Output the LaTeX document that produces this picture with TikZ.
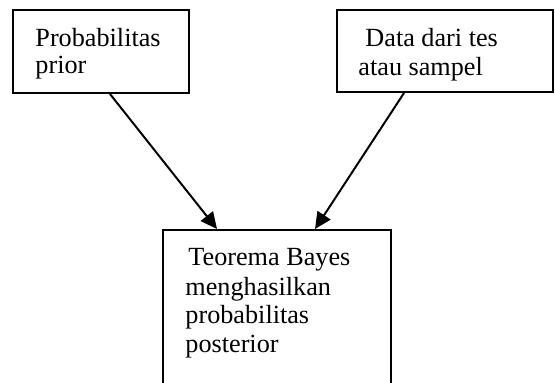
\documentclass[tikz,border=0pt]{standalone}
\usepackage{fontspec}
\setmainfont{Liberation Serif}
\usetikzlibrary{arrows.meta,calc,fit}
\begin{document}
\begin{tikzpicture}[x=0.4541pt,y=-0.4541pt,
  box/.style={draw,line width=0.9pt,inner sep=0pt,fill=none},
  lbl/.style={anchor=base west,inner sep=0pt,font=\fontsize{11.9}{13}\selectfont},
  flow/.style={line width=0.9pt,-{Triangle[length=7.5pt,width=7pt]}}]
  \useasboundingbox (0,0) rectangle (555,382);
  \clip (0,0) rectangle (555,382);
  % input boxes
  \node[box,fit={(13,10) (189,93)}] (prior) {};
  \node[box,fit={(337,10) (553,92)}] (data) {};
  % result box, running off the lower edge
  \node[box,fit={(163,230) (391,420)}] (bayes) {};
  % labels
  \node[lbl] (t1) at (35,46) {Probabilitas};
  \node[lbl] (t2) at (35,73) {prior};
  \node[lbl] (t3) at (365,46) {Data dari tes};
  \node[lbl] (t4) at (358,75) {atau sampel};
  \node[lbl] (t5) at (188,265) {Teorema Bayes};
  \node[lbl] (t6) at (185,295) {menghasilkan};
  \node[lbl] (t7) at (185,323) {probabilitas};
  \node[lbl] (t8) at (185,352) {posterior};
  % connectors
  \draw[flow] ($(prior.south west)+(98,0)$) -- ($(bayes.north west)+(55,0)$);
  \draw[flow] ($(data.south west)+(68,0)$) -- ($(bayes.north west)+(153,0)$);
\end{tikzpicture}
\end{document}
